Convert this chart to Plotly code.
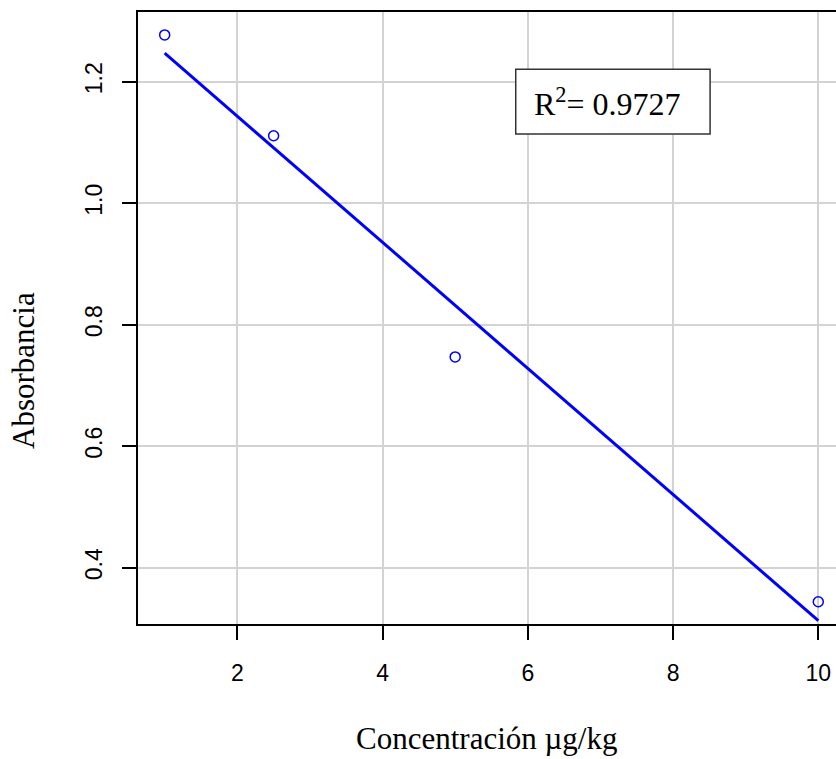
import plotly.graph_objects as go

# Data
conc = [1.0, 2.5, 5.0, 10.0]
absorb = [1.277, 1.111, 0.747, 0.344]
fit_x = [1.0, 10.0]
fit_y = [1.247, 0.313]
r2_label = "R<sup>2</sup>= 0.9727"
x_ticks = [2, 4, 6, 8, 10]
y_ticks = [0.4, 0.6, 0.8, 1.0, 1.2]
y_ticktext = ["0.4", "0.6", "0.8", "1.0", "1.2"]

BLUE = "#0000FF"
GRID = "#D3D3D3"
SANS = "Liberation Sans, Arial, sans-serif"
SERIF = "Liberation Serif, Times New Roman, serif"

fig = go.Figure()
fig.add_trace(go.Scatter(x=fit_x, y=fit_y, mode="lines",
                         line=dict(color=BLUE, width=3), showlegend=False))
fig.add_trace(go.Scatter(x=conc, y=absorb, mode="markers",
                         marker=dict(symbol="circle-open", size=10, color=BLUE,
                                     line=dict(width=1.5, color=BLUE)),
                         showlegend=False))

# plot region extends slightly past the right edge of the window, as in the reference
W = 844
fig.update_layout(
    width=W, height=759,
    margin=dict(l=138, r=0, t=12, b=135),
    paper_bgcolor="white", plot_bgcolor="white",
    xaxis=dict(range=[0.6327, 0.6327 + (W - 138) / 72.625], tickvals=x_ticks, ticks="outside",
               ticklen=14, tickwidth=1.5, tickcolor="black", showline=True, linecolor="black",
               linewidth=2, mirror=True, showgrid=True, gridcolor=GRID, gridwidth=1.5,
               zeroline=False, tickfont=dict(family=SANS, size=23, color="black"),
               ticklabelstandoff=13),
    yaxis=dict(range=[0.30733, 1.31473], tickvals=y_ticks, ticktext=y_ticktext,
               ticks="outside", ticklen=14, tickwidth=1.5, tickcolor="black",
               showline=True, linecolor="black", linewidth=2, mirror=False,
               showgrid=True, gridcolor=GRID, gridwidth=1.5, zeroline=False,
               tickangle=-90, tickfont=dict(family=SANS, size=23, color="black"),
               ticklabelstandoff=11),
    shapes=[dict(type="rect", xref="x", yref="y", x0=5.834, x1=8.510, y0=1.1139, y1=1.2204,
                 line=dict(color="#333333", width=1.5), fillcolor="white", layer="above")],
    annotations=[
        dict(text=r2_label, xref="x", yref="y", x=7.098, y=1.1671, showarrow=False,
             font=dict(family=SERIF, size=32, color="black"), xanchor="center", yanchor="middle"),
        dict(text="Concentración µg/kg", xref="paper", yref="paper", x=(486.5 - 138) / (W - 138),
             y=-0.1874, showarrow=False, font=dict(family=SERIF, size=31, color="black"),
             xanchor="center", yanchor="middle"),
        dict(text="Absorbancia", xref="paper", yref="paper", x=(23 - 138) / (W - 138),
             y=(624 - 371) / 612, textangle=-90, showarrow=False,
             font=dict(family=SERIF, size=31, color="black"),
             xanchor="center", yanchor="middle"),
    ],
)

fig.write_html("out.html", config={"displayModeBar": False},
               post_script="document.body.style.margin='0';document.body.style.overflow='hidden';")
